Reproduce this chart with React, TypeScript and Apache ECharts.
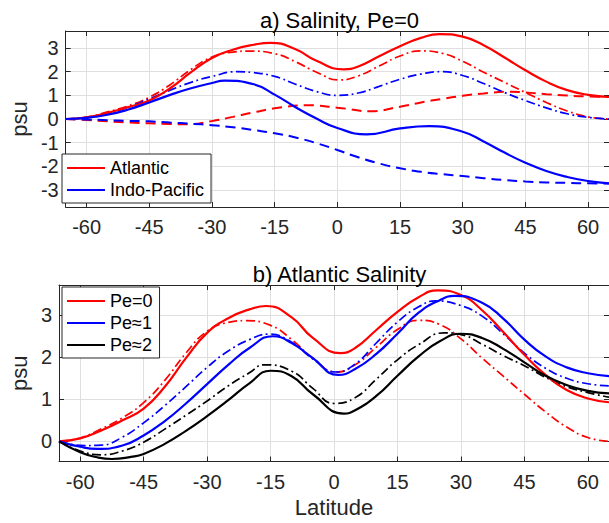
import React, { useEffect, useRef } from "react";
import * as echarts from "echarts";

// ---- Panel a) Salinity, Pe=0 (latitude / psu pairs read from the figure) ----
const atlSolidLat = [-65, -60, -55, -50, -45, -40, -35, -30, -25, -20, -16, -10, -5, 1.5, 5, 10, 15, 20, 24.5, 30, 35, 40, 45, 50, 55, 60, 65];
const atlSolidVal = [0, 0.07, 0.26, 0.5, 0.78, 1.3, 1.98, 2.58, 2.93, 3.14, 3.22, 2.95, 2.46, 2.1, 2.22, 2.65, 3.08, 3.43, 3.59, 3.48, 3.12, 2.6, 2.06, 1.58, 1.22, 1.02, 0.93];

const atlDashDotLat = [-65, -60, -55, -50, -45, -40, -35, -30, -25, -21, -15, -10, -5, 0.5, 5, 10, 15, 20, 25, 30, 35, 40, 45, 50, 55, 60, 65];
const atlDashDotVal = [0, 0.08, 0.3, 0.56, 0.92, 1.45, 2.1, 2.62, 2.83, 2.87, 2.76, 2.42, 1.98, 1.65, 1.82, 2.24, 2.66, 2.88, 2.78, 2.44, 1.98, 1.55, 1.12, 0.7, 0.34, 0.09, 0];

const atlDashedLat = [-65, -60, -55, -50, -45, -40, -36, -30, -25, -20, -15, -7, 0, 8, 15, 20, 25, 30, 35, 41, 50, 55, 60, 65];
const atlDashedVal = [0, -0.04, -0.1, -0.15, -0.18, -0.21, -0.22, -0.09, 0.09, 0.28, 0.45, 0.58, 0.48, 0.33, 0.52, 0.7, 0.85, 0.98, 1.08, 1.15, 1.05, 0.99, 0.95, 0.93];

const ipSolidLat = [-65, -60, -55, -50, -45, -40, -35, -30, -27, -20, -15, -10, -5, 0, 7, 15, 22, 30, 35, 40, 45, 50, 55, 60, 65];
const ipSolidVal = [0, 0.05, 0.18, 0.4, 0.7, 1.02, 1.3, 1.52, 1.62, 1.47, 1.03, 0.5, 0.02, -0.38, -0.65, -0.4, -0.3, -0.54, -0.95, -1.42, -1.85, -2.2, -2.45, -2.62, -2.72];

const ipDashedLat = [-65, -60, -55, -50, -45, -40, -35, -30, -25, -20, -15, -10, -5, 0, 5, 10, 15, 20, 25, 30, 35, 40, 45, 50, 55, 60, 65];
const ipDashedVal = [0, -0.02, -0.05, -0.08, -0.1, -0.15, -0.2, -0.26, -0.35, -0.47, -0.6, -0.78, -1.02, -1.31, -1.62, -1.88, -2.08, -2.23, -2.33, -2.41, -2.5, -2.58, -2.64, -2.68, -2.7, -2.72, -2.73];

const ipDashDotLat = [-65, -60, -55, -50, -45, -40, -35, -30, -24, -20, -15, -10, -5, 0, 5, 10, 15, 20, 25, 30, 35, 40, 45, 50, 55, 60, 65];
const ipDashDotVal = [0, 0.06, 0.22, 0.5, 0.85, 1.22, 1.55, 1.8, 2.0, 1.96, 1.8, 1.47, 1.16, 1.0, 1.1, 1.38, 1.68, 1.9, 2.0, 1.84, 1.5, 1.12, 0.78, 0.47, 0.22, 0.07, 0];

// ---- Panel b) Atlantic Salinity ----
const pe1SolidLat = [-65, -60, -56, -50, -45, -40, -35, -30, -25, -20, -14.5, -10, -5, 1, 5, 10, 15, 20, 25, 28.5, 35, 40, 45, 50, 55, 60, 65];
const pe1SolidVal = [0, -0.13, -0.18, -0.1, 0.14, 0.48, 0.9, 1.36, 1.82, 2.22, 2.5, 2.34, 1.98, 1.58, 1.72, 2.08, 2.56, 3.06, 3.36, 3.46, 3.3, 2.92, 2.42, 2.02, 1.76, 1.62, 1.55];

const pe1DashDotLat = [-65, -59, -55, -50, -45, -40, -35, -30, -25, -20, -15.5, -10, -5, 0.5, 5, 10, 15, 20, 24, 30, 35, 40, 45, 50, 55, 60, 65];
const pe1DashDotVal = [0, -0.1, -0.09, 0.1, 0.44, 0.85, 1.3, 1.76, 2.15, 2.42, 2.55, 2.36, 1.96, 1.65, 1.84, 2.34, 2.84, 3.2, 3.34, 3.23, 2.98, 2.56, 2.1, 1.74, 1.5, 1.37, 1.32];

const pe2SolidLat = [-65, -60, -56, -52.5, -48, -45, -40, -35, -30, -25, -20, -15, -10, -5, 2.3, 5, 10, 15, 20, 25, 30, 35, 40, 45, 50, 55, 60, 65];
const pe2SolidVal = [0, -0.26, -0.38, -0.42, -0.37, -0.3, -0.06, 0.25, 0.6, 0.98, 1.38, 1.68, 1.55, 1.12, 0.66, 0.74, 1.08, 1.56, 2.02, 2.38, 2.56, 2.46, 2.2, 1.88, 1.56, 1.34, 1.2, 1.14];

const pe2DashDotLat = [-65, -60, -55, -50, -45, -40, -35, -30, -25, -20, -16.5, -10, -5, 0, 5, 10, 15, 20, 26, 30, 35, 40, 45, 50, 55, 60, 65];
const pe2DashDotVal = [0, -0.23, -0.32, -0.23, -0.02, 0.29, 0.62, 0.96, 1.32, 1.63, 1.82, 1.67, 1.26, 0.9, 1.04, 1.48, 1.94, 2.3, 2.58, 2.54, 2.31, 2.04, 1.8, 1.52, 1.3, 1.16, 1.05];

// ---- Tick labels ----
const X_TICKS = [-60, -45, -30, -15, 0, 15, 30, 45, 60];
const Y_TICKS_A = [-3, -2, -1, 0, 1, 2, 3];
const Y_TICKS_B = [0, 1, 2, 3];

const FONT = "'Liberation Sans', Arial, Helvetica, sans-serif";
const AX = "#262626";
const GRIDC = "#dfdfdf";
const RED = "#ff0000";
const BLUE = "#0000ff";
const BLACK = "#000000";
const DASH = [10, 6];
const DASHDOT = [9, 3.5, 1.8, 3.5];
const LEGEND_ICON = "path://M0 0H38V2.2H0Z";

function pairs(xs: number[], ys: number[]) {
  return xs.map((x, i) => [x, ys[i]]);
}

function line(name: string, xs: number[], ys: number[], color: string, kind: "solid" | "dashed" | "dashdot", gi: number) {
  const width = kind === "solid" ? 2.2 : kind === "dashed" ? 2 : 1.7;
  const type = kind === "solid" ? "solid" : kind === "dashed" ? DASH : DASHDOT;
  return {
    type: "line",
    name,
    data: pairs(xs, ys),
    xAxisIndex: gi * 2,
    yAxisIndex: gi * 2,
    smooth: 0.5,
    symbol: "none",
    lineStyle: { color, width, type },
    itemStyle: { color },
    clip: true,
    z: kind === "solid" ? 3 : 2,
  };
}

function xAxes(gi: number) {
  const base = {
    type: "value",
    gridIndex: gi,
    min: -65,
    max: 65,
    axisLine: { show: true, onZero: false, lineStyle: { color: AX, width: 1 } },
    axisTick: { show: true, inside: true, length: 5, customValues: X_TICKS, lineStyle: { color: AX } },
  };
  return [
    {
      ...base,
      position: "bottom",
      axisLabel: { show: true, customValues: X_TICKS, margin: 10, fontSize: 20, fontFamily: FONT, color: AX },
      splitLine: { show: true, lineStyle: { color: GRIDC, width: 1 } },
      name: gi === 1 ? "Latitude" : "",
      nameLocation: "middle",
      nameGap: 35,
      nameTextStyle: { fontSize: 22, fontFamily: FONT, color: AX },
    },
    {
      ...base,
      position: "top",
      axisLabel: { show: false },
      splitLine: { show: false },
    },
  ];
}

function yAxes(gi: number, min: number, max: number, ticks: number[], nameGap: number) {
  const base = {
    type: "value",
    gridIndex: gi,
    min,
    max,
    axisLine: { show: true, onZero: false, lineStyle: { color: AX, width: 1 } },
    axisTick: { show: true, inside: true, length: 5, customValues: ticks, lineStyle: { color: AX } },
  };
  return [
    {
      ...base,
      position: "left",
      axisLabel: { show: true, customValues: ticks, margin: 7, fontSize: 20, fontFamily: FONT, color: AX },
      splitLine: { show: true, lineStyle: { color: GRIDC, width: 1 } },
      name: "psu",
      nameLocation: "middle",
      nameGap,
      nameTextStyle: { fontSize: 22, fontFamily: FONT, color: AX },
    },
    {
      ...base,
      position: "right",
      axisLabel: { show: false },
      splitLine: { show: false },
    },
  ];
}

const legendCommon = {
  orient: "vertical",
  left: 62,
  icon: LEGEND_ICON,
  itemWidth: 38,
  itemHeight: 2.2,
  itemGap: 4,
  padding: [5, 7, 4, 5],
  borderColor: AX,
  borderWidth: 1,
  borderRadius: 0,
  backgroundColor: "#ffffff",
  textStyle: { fontSize: 18, fontFamily: FONT, color: "#000" },
  z: 10,
};

export default function App() {
  const ref = useRef<HTMLDivElement>(null);
  useEffect(() => {
    if (!ref.current) return;
    const chart = echarts.init(ref.current, undefined, { renderer: "svg" });
    const option = {
      animation: false,
      backgroundColor: "#ffffff",
      title: [
        {
          text: "a) Salinity, Pe=0",
          left: 334.5,
          top: 4,
          textAlign: "center",
          textStyle: { fontSize: 22, fontWeight: "normal", fontFamily: FONT, color: "#000" },
        },
        {
          text: "b) Atlantic Salinity",
          left: 334.5,
          top: 258,
          textAlign: "center",
          textStyle: { fontSize: 22, fontWeight: "normal", fontFamily: FONT, color: "#000" },
        },
      ],
      grid: [
        { left: 57, top: 31, width: 555, height: 176, containLabel: false },
        { left: 57, top: 285, width: 555, height: 176.5, containLabel: false },
      ],
      xAxis: [...xAxes(0), ...xAxes(1)],
      yAxis: [
        ...yAxes(0, -3.72, 3.72, Y_TICKS_A, 29),
        ...yAxes(1, -0.48, 3.72, Y_TICKS_B, 19),
      ],
      legend: [
        { ...legendCommon, top: 154, data: ["Atlantic", "Indo-Pacific"] },
        { ...legendCommon, top: 287, data: ["Pe=0", "Pe\u22481", "Pe\u22482"] },
      ],
      series: [
        line("Atlantic dashed", atlDashedLat, atlDashedVal, RED, "dashed", 0),
        line("Indo-Pacific dashed", ipDashedLat, ipDashedVal, BLUE, "dashed", 0),
        line("Atlantic dash-dot", atlDashDotLat, atlDashDotVal, RED, "dashdot", 0),
        line("Indo-Pacific dash-dot", ipDashDotLat, ipDashDotVal, BLUE, "dashdot", 0),
        line("Atlantic", atlSolidLat, atlSolidVal, RED, "solid", 0),
        line("Indo-Pacific", ipSolidLat, ipSolidVal, BLUE, "solid", 0),
        line("Pe=0 dash-dot", atlDashDotLat, atlDashDotVal, RED, "dashdot", 1),
        line("Pe\u22481 dash-dot", pe1DashDotLat, pe1DashDotVal, BLUE, "dashdot", 1),
        line("Pe\u22482 dash-dot", pe2DashDotLat, pe2DashDotVal, BLACK, "dashdot", 1),
        line("Pe=0", atlSolidLat, atlSolidVal, RED, "solid", 1),
        line("Pe\u22481", pe1SolidLat, pe1SolidVal, BLUE, "solid", 1),
        line("Pe\u22482", pe2SolidLat, pe2SolidVal, BLACK, "solid", 1),
      ],
    };
    chart.setOption(option as any);
    return () => chart.dispose();
  }, []);
  return (
    <div
      ref={ref}
      style={{ position: "absolute", left: 0, top: 0, width: 609, height: 523, overflow: "hidden", background: "#fff" }}
    />
  );
}
